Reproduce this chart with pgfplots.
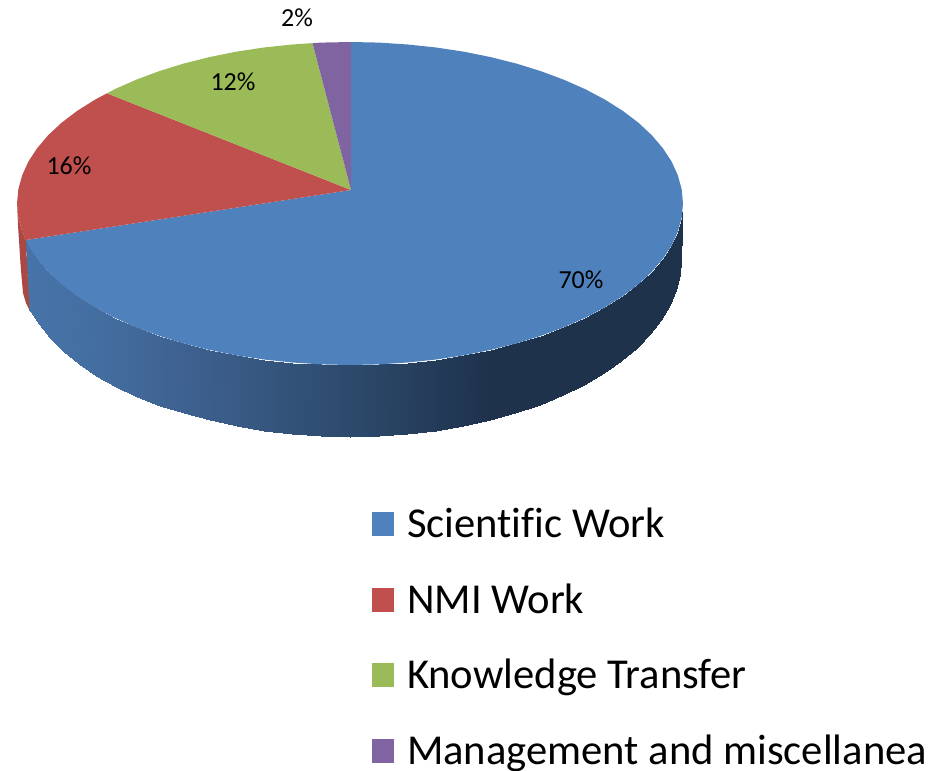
\documentclass[border=0pt]{standalone}
\usepackage{pgfplots}
\pgfplotsset{compat=1.18}
\usepackage{fontspec}
\setmainfont[Ligatures=NoCommon]{Carlito}
\definecolor{cblue}{RGB}{79,129,189}
\definecolor{cred}{RGB}{192,80,77}
\definecolor{cgreen}{RGB}{155,187,89}
\definecolor{cpurple}{RGB}{128,100,162}
\definecolor{credwall}{RGB}{172,72,68}
\begin{document}
\begin{tikzpicture}
\path[use as bounding box] (0,0) rectangle (472pt,385.5pt);
\begin{axis}[
  scale only axis, width=472pt, height=385.5pt,
  xmin=0, xmax=944, ymin=0, ymax=771, y dir=reverse,
  hide axis, clip=false,
  colormap={wall}{rgb255(30)=(70,115,168) rgb255(100)=(68,110,160) rgb255(180)=(62,98,145) rgb255(350)=(45,74,108) rgb255(490)=(30,50,76) rgb255(680)=(30,50,76)},
  point meta min=30, point meta max=680,
  legend cell align=left,
  legend image code/.code={\fill[#1] (0pt,-6pt) rectangle (11pt,6pt); \path (17.8pt,0pt);},
  legend style={at={(axis cs:371.5,508)}, anchor=north west, draw=none, fill=none,
    font=\fontsize{21.3}{21.3}\selectfont, row sep=21.5pt, inner sep=0pt, outer sep=0pt,
    nodes={inner sep=0pt, outer sep=0pt}},
]
% side wall: top rim then bottom rim
\addplot[surf, shader=interp, mesh/rows=2, point meta=x, forget plot] table {
x y
683 203.5
681.7 217.6
677.9 231.5
671.7 245.3
662.9 258.7
651.8 271.8
638.4 284.3
622.8 296.1
605.1 307.3
585.5 317.7
564 327.2
541 335.8
516.5 343.4
490.7 349.9
463.9 355.3
436.2 359.5
407.8 362.5
379 364.4
350 365
321 364.4
292.2 362.5
263.8 359.5
236.1 355.3
209.3 349.9
183.5 343.4
159 335.8
136 327.2
114.5 317.7
94.9 307.3
77.2 296.1
61.6 284.3
48.2 271.8
37.1 258.7
28.3 245.3
25.9 240

681 259
679.7 274.5
676 289.9
669.7 305.1
661 319.9
650 334.2
636.7 348
621.1 361.1
603.6 373.4
584.1 384.9
562.8 395.4
539.9 404.8
515.5 413.2
489.9 420.3
463.2 426.3
435.7 430.9
407.5 434.3
378.8 436.3
350 437
321.2 436.3
292.5 434.3
264.3 430.9
236.8 426.3
210.1 420.3
184.5 413.2
160.1 405.8
137.2 397
115.9 387
96.4 376
78.9 364
63.3 351.5
50 338
39 324
31.3 312
29.5 310
};
% red wall
\addplot[fill=credwall, draw=none, forget plot] coordinates {
(17.2,205) (18.3,217.6) (22.1,231.5) (25.9,240) (29.5,310) (26,303) (23,293) (20.7,267) (18,225)
} --cycle;
% top: wedges
\addplot[fill=cblue, draw=none] coordinates {
(351,190) (351,42) (379,42.6) (407.8,44.5) (436.2,47.5) (463.9,51.7) (490.7,57.1) (516.5,63.6) (541,71.2) (564,79.8) (585.5,89.3) (605.1,99.7) (622.8,110.9) (638.4,122.7) (651.8,135.2) (662.9,148.3) (671.7,161.7) (677.9,175.5) (681.7,189.4) (683,203.5)
(681.7,217.6) (677.9,231.5) (671.7,245.3) (662.9,258.7) (651.8,271.8) (638.4,284.3) (622.8,296.1) (605.1,307.3) (585.5,317.7) (564,327.2) (541,335.8) (516.5,343.4) (490.7,349.9) (463.9,355.3) (436.2,359.5) (407.8,362.5) (379,364.4) (350,365)
(321,364.4) (292.2,362.5) (263.8,359.5) (236.1,355.3) (209.3,349.9) (183.5,343.4) (159,335.8) (136,327.2) (114.5,317.7) (94.9,307.3) (77.2,296.1) (61.6,284.3) (48.2,271.8) (37.1,258.7) (28.3,245.3) (25.9,240)
} --cycle;
\addlegendentry{Scientific Work}
\addplot[fill=cred, draw=none] coordinates {
(351,190) (25.9,240) (22.1,231.5) (18.3,217.6) (17,203.5) (18.3,189.4) (22.1,175.5) (28.3,161.7) (37.1,148.3) (48.2,135.2) (61.6,122.7) (77.2,110.9) (94.9,99.7) (107,93.3)
} --cycle;
\addlegendentry{NMI Work}
\addplot[fill=cgreen, draw=none] coordinates {
(351,190) (107,93.3) (114.5,89.3) (136,79.8) (159,71.2) (183.5,63.6) (209.3,57.1) (236.1,51.7) (263.8,47.5) (292.2,44.5) (312.5,43.1)
} --cycle;
\addlegendentry{Knowledge Transfer}
\addplot[fill=cpurple, draw=none] coordinates {
(351,190) (312.5,43.1) (321,42.6) (351,42)
} --cycle;
\addlegendentry{Management and miscellanea}
\node[font=\fontsize{13}{13}\selectfont] at (axis cs:581,280) {70\%};
\node[font=\fontsize{13}{13}\selectfont] at (axis cs:69,166) {16\%};
\node[font=\fontsize{13}{13}\selectfont] at (axis cs:233,82) {12\%};
\node[font=\fontsize{13}{13}\selectfont] at (axis cs:297,18) {2\%};
\end{axis}
\end{tikzpicture}
\end{document}
